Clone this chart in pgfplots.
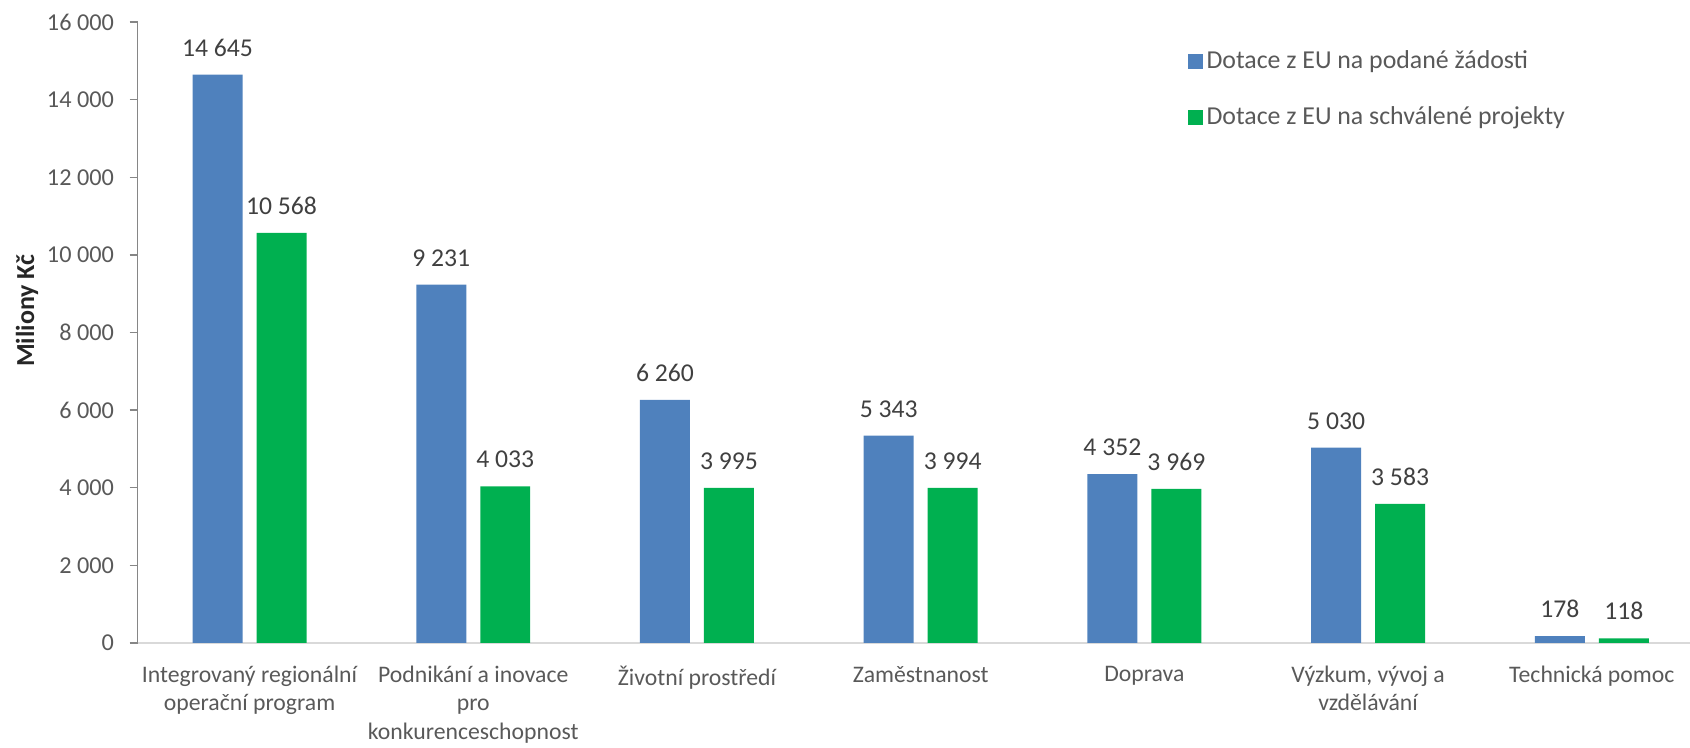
\documentclass[border=0pt]{standalone}
\usepackage{fontspec}
\setmainfont{Carlito}
\usepackage{pgfplots}
\pgfplotsset{compat=1.18}
\usetikzlibrary{calc}
\definecolor{barBlue}{HTML}{4F81BD}
\definecolor{barGreen}{HTML}{00B050}
\definecolor{txtGray}{HTML}{595959}
\definecolor{lblGray}{HTML}{404040}
\definecolor{yAxisGray}{HTML}{868686}
\definecolor{xAxisGray}{HTML}{D9D9D9}

\begin{document}
\fontsize{13.5}{16}\selectfont
\begin{tikzpicture}
\begin{axis}[
  name=ax,
  scale only axis,
  width=310.5mm, height=124.2mm,
  ybar,
  bar width=10mm,
  xmin=-0.5, xmax=6.439,
  ymin=0, ymax=16000,
  ytick={0,2000,...,16000},
  xtick={0,...,6},
  xticklabels={
    {Integrovaný regionální\\operační program},
    {Podnikání a inovace\\pro\\konkurenceschopnost},
    {Životní prostředí},
    {Zaměstnanost},
    {Doprava},
    {Výzkum, vývoj a\\vzdělávání},
    {Technická pomoc}},
  axis lines*=left,
  x axis line style={draw=xAxisGray, line width=1.1pt},
  y axis line style={draw=yAxisGray, line width=0.8pt},
  tick align=outside,
  major tick length=1.6mm,
  xtick style={draw=none},
  ytick style={draw=yAxisGray, line width=0.8pt},
  /pgf/number format/.cd, 1000 sep={\ }, assume math mode=true,
  /pgfplots/.cd,
  scaled y ticks=false,
  yticklabel style={text=txtGray, font=\fontsize{13.8}{16}\selectfont, xshift=-1.5mm},
  xticklabel style={text=txtGray, font=\fontsize{13.5}{16.1}\selectfont,
    align=center, anchor=north, yshift=-1.4mm},
  ylabel={\textbf{Miliony Kč}},
  ylabel style={at={(axis description cs:-0.0712,0.535)}, anchor=center,
    text=black!85, font=\fontsize{14.8}{16}\selectfont},
  nodes near coords,
  every node near coord/.append style={text=lblGray, anchor=south,
    inner sep=0pt, yshift=3.6mm, font=\fontsize{14.6}{16}\selectfont},
  legend style={draw=none, fill=none, at={(axis description cs:0.673,0.966)},
    anchor=north west, row sep=5.6mm, text=txtGray,
    font=\fontsize{14.7}{16}\selectfont,
    /tikz/every even column/.append style={column sep=1mm}},
  legend cell align=left,
  legend image code/.code={\fill[#1] (0mm,-1.5mm) rectangle (3mm,1.5mm);},
  clip=false,
]
\addplot[draw=none, fill=barBlue, bar shift=-6.4mm]
  coordinates {(0,14645) (1,9231) (2,6260) (3,5343) (4,4352) (5,5030) (6,178)};
\addplot[draw=none, fill=barGreen, bar shift=6.4mm]
  coordinates {(0,10568) (1,4033) (2,3995) (3,3994) (4,3969) (5,3583) (6,118)};
\legend{Dotace z EU na podané žádosti, Dotace z EU na schválené projekty}
\end{axis}
\pgfresetboundingbox
\path[use as bounding box] ($(ax.south west)+(-27.54mm,-21mm)$) rectangle ($(ax.north east)+(0,4.4mm)$);
\end{tikzpicture}
\end{document}
